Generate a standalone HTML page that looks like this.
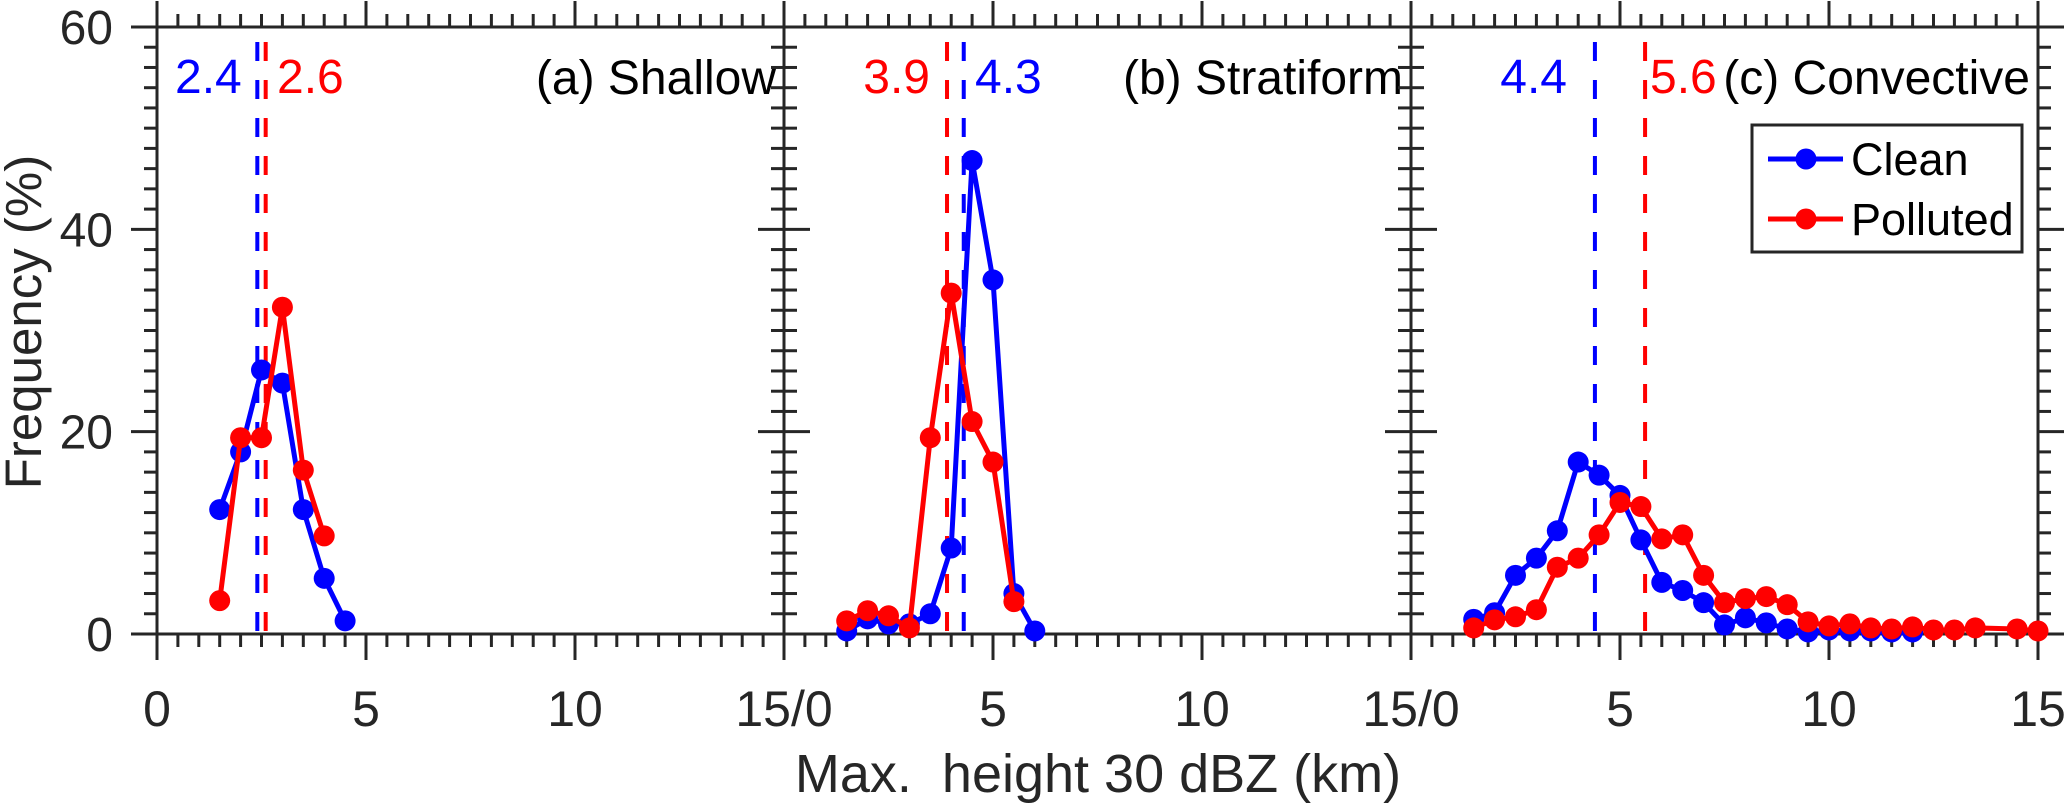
<!DOCTYPE html>
<html><head><meta charset="utf-8"><style>
html,body{margin:0;padding:0;background:#fff;}
svg{display:block;font-family:"Liberation Sans",Arial,sans-serif;}
</style></head><body>
<svg id="chart" width="2067" height="806" viewBox="0 0 2067 806" xmlns="http://www.w3.org/2000/svg">
<text x="0" y="0" transform="translate(41,322) rotate(-90)" text-anchor="middle" font-size="51" fill="#262626">Frequency (%)</text>
<text x="1098" y="792" text-anchor="middle" font-size="54" fill="#262626" xml:space="preserve">Max.  height 30 dBZ (km)</text>
</svg>
<script>
const xs = [1.5,2,2.5,3,3.5,4,4.5,5,5.5,6,6.5,7,7.5,8,8.5,9,9.5,10,10.5,11,11.5,12,12.5,13,13.5,14,14.5,15];
const cleanA = [12.3,18.0,26.1,24.8,12.3,5.5,1.3];
const pollutedA = [3.3,19.4,19.4,32.3,16.2,9.7];
const cleanB = [0.3,1.5,1.0,1.0,2.0,8.5,46.8,35.0,4.0,0.3];
const pollutedB = [1.3,2.3,1.8,0.6,19.4,33.7,21.0,17.0,3.2];
const cleanC = [1.45,2.1,5.8,7.5,10.2,17.0,15.7,13.7,9.3,5.1,4.3,3.1,0.9,1.6,1.1,0.5,0.2,0.4,0.3,0.3,0.2,0.2];
const pollutedCx = [1.5,2,2.5,3,3.5,4,4.5,5,5.5,6,6.5,7,7.5,8,8.5,9,9.5,10,10.5,11,11.5,12,12.5,13,13.5,14.5,15];
const pollutedC = [0.6,1.4,1.7,2.4,6.6,7.5,9.8,13.0,12.6,9.4,9.8,5.8,3.1,3.5,3.7,2.9,1.2,0.8,1.0,0.6,0.5,0.7,0.4,0.4,0.6,0.5,0.3];
const meansClean = [2.4,4.3,4.4];
const meansPolluted = [2.6,3.9,5.6];
const meanLabelsClean = ["2.4","4.3","4.4"];
const meanLabelsPolluted = ["2.6","3.9","5.6"];
const panelTitles = ["(a) Shallow","(b) Stratiform","(c) Convective"];
const yTicks = [0,20,40,60];
const xTickLabels = ["0","5","10","15/0","5","10","15/0","5","10","15"];

const NS="http://www.w3.org/2000/svg";
const svg=document.getElementById('chart');
const P0=157, PW=627, Y0=634, YT=27, XMAX=15, YMAX=60;
const AX="#262626";
function px(p,v){return P0+p*PW+v/XMAX*PW;}
function py(v){return Y0-v/YMAX*(Y0-YT);}
function mk(tag,attrs){const e=document.createElementNS(NS,tag);for(const k in attrs)e.setAttribute(k,attrs[k]);svg.appendChild(e);return e;}

const panels=[{c:cleanA,cx:xs,p:pollutedA,pxs:xs},{c:cleanB,cx:xs,p:pollutedB,pxs:xs},{c:cleanC,cx:xs,p:pollutedC,pxs:pollutedCx}];

for(let p=0;p<3;p++){
  const L=px(p,0), R=px(p,XMAX);
  for(let k=0;k<=30;k++){
    const x=px(p,k*0.5); const major=k%10===0; const len=major?26:13;
    let t=mk('line',{x1:x,x2:x,y1:Y0,y2:Y0+len,stroke:AX,'stroke-width':3});
    
    
    t=mk('line',{x1:x,x2:x,y1:YT,y2:YT-len,stroke:AX,'stroke-width':3});
    
    
  }
  for(let k=0;k<=30;k++){
    const y=py(k*2); const major=k%10===0; const len=major?26:13;
    let t=mk('line',{x1:L,x2:L-len,y1:y,y2:y,stroke:AX,'stroke-width':3});
    
    
    t=mk('line',{x1:R,x2:R+len,y1:y,y2:y,stroke:AX,'stroke-width':3});
    
    
  }
  const fr=mk('rect',{x:L,y:YT,width:PW,height:Y0-YT,fill:'none',stroke:AX,'stroke-width':3});
  
  
  const mc=mk('line',{x1:px(p,meansClean[p]),x2:px(p,meansClean[p]),y1:42,y2:Y0,stroke:'#0000ff','stroke-width':4,'stroke-dasharray':'19,19'});
  
  
  const mp=mk('line',{x1:px(p,meansPolluted[p]),x2:px(p,meansPolluted[p]),y1:42,y2:Y0,stroke:'#ff0000','stroke-width':4,'stroke-dasharray':'19,19'});
  
  
  const series=[{v:panels[p].c,x:panels[p].cx,col:'#0000ff',n:'clean'},{v:panels[p].p,x:panels[p].pxs,col:'#ff0000',n:'polluted'}];
  for(const s of series){
    const pts=s.v.map((v,i)=>px(p,s.x[i])+','+py(v)).join(' ');
    const pl=mk('polyline',{points:pts,fill:'none',stroke:s.col,'stroke-width':5,'stroke-linejoin':'round'});
    
    
    s.v.forEach((v,i)=>{
      const c=mk('circle',{cx:px(p,s.x[i]),cy:py(v),r:10.5,fill:s.col});
      
      
    });
  }
  const tt=mk('text',{x:R-8,y:94,'text-anchor':'end','font-size':48,fill:'#000'});
  tt.textContent=panelTitles[p];
  
  
}
const lblPos=[
 {c:[175,'start'],p:[277,'start']},
 {c:[975,'start'],p:[930,'end']},
 {c:[1567,'end'],p:[1650,'start']}];
for(let p=0;p<3;p++){
  let t=mk('text',{x:lblPos[p].c[0],y:93,'text-anchor':lblPos[p].c[1],'font-size':48,fill:'#0000ff'});
  t.textContent=meanLabelsClean[p];
  
  
  t=mk('text',{x:lblPos[p].p[0],y:93,'text-anchor':lblPos[p].p[1],'font-size':48,fill:'#ff0000'});
  t.textContent=meanLabelsPolluted[p];
  
  
}
yTicks.forEach(v=>{
  const t=mk('text',{x:113,y:py(v)+17,'text-anchor':'end','font-size':48,fill:AX});
  t.textContent=v;
  
  
});
xTickLabels.forEach((s,i)=>{
  const t=mk('text',{x:P0+i*PW/3,y:726,'text-anchor':'middle','font-size':50,fill:AX});
  t.textContent=s;
  
  
});
const lg=mk('rect',{x:1752,y:125,width:270,height:127,fill:'#fff',stroke:AX,'stroke-width':3});


[['Clean','#0000ff',159],['Polluted','#ff0000',219]].forEach(([n,c,y])=>{
  let e=mk('line',{x1:1768,x2:1843,y1:y,y2:y,stroke:c,'stroke-width':5});
  
  
  e=mk('circle',{cx:1806,cy:y,r:10.5,fill:c});
  
  
  e=mk('text',{x:1851,y:y+16,'font-size':45,fill:'#000'});
  e.textContent=n;
  
  
});
</script>
</body></html>
